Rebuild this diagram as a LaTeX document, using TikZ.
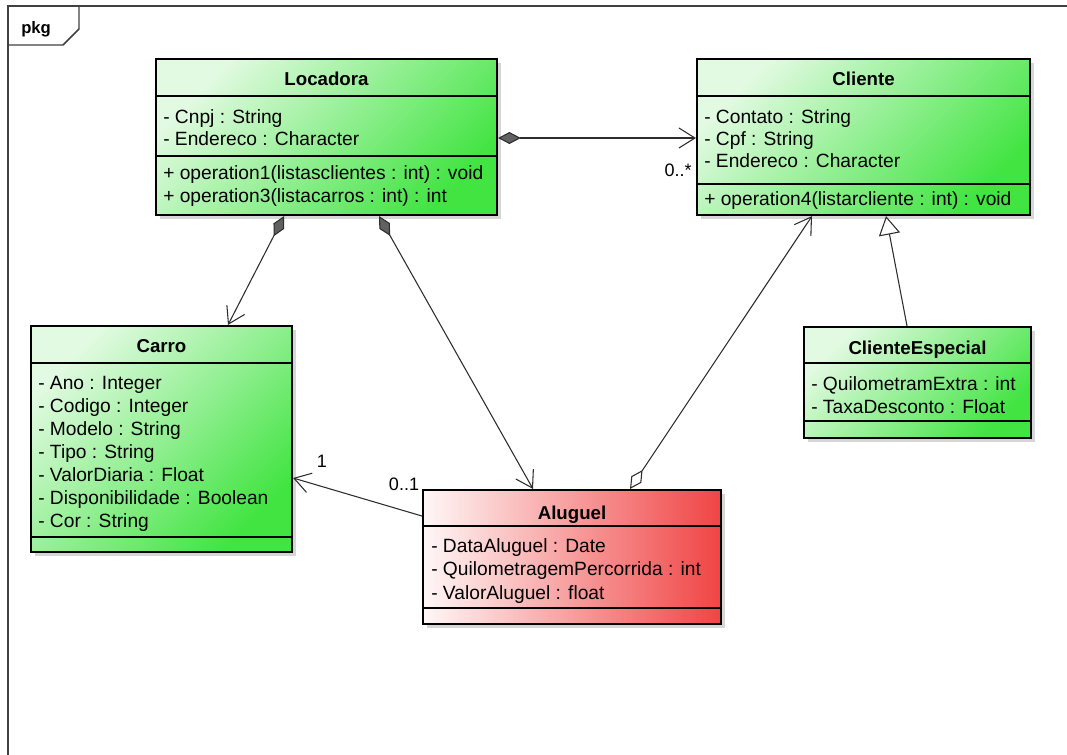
\documentclass[tikz,border=0pt]{standalone}
\usepackage{fontspec}
\setmainfont{Liberation Sans}
\usetikzlibrary{arrows.meta}
\usetikzlibrary{shadows}
\usetikzlibrary{fit}
\definecolor{lightgreen}{RGB}{226,250,226}
\definecolor{umlgreen}{RGB}{66,228,66}
\definecolor{lightred}{RGB}{255,247,247}
\definecolor{umlred}{RGB}{240,68,68}
\definecolor{edgegray}{RGB}{45,45,45}
\tikzset{%
  myclass/.style={draw=black, line width=1.6pt, inner sep=0pt,
    top color=lightgreen, bottom color=umlgreen, shading angle=45,
    drop shadow={shadow xshift=3pt, shadow yshift=-3pt, fill=black!16, opacity=1}},
  myrentclass/.style={myclass, left color=lightred, right color=umlred},
  mysep/.style={draw=black, line width=0.9pt},
  myhead/.style={anchor=base, inner sep=0pt, font=\fontsize{14}{16}\selectfont\bfseries},
  myattr/.style={anchor=base west, inner sep=0pt, font=\fontsize{14.4}{17}\selectfont},
  mymult/.style={inner sep=0pt, font=\fontsize{13.5}{16}\selectfont},
  myedge/.style={draw=edgegray, line width=0.8pt},
  mynav/.style={myedge, -{Straight Barb[length=12pt,width=15pt]}},
  mycomp/.style={myedge, {Diamond[length=17pt,width=9pt,fill=black!62]}-{Straight Barb[length=12pt,width=15pt]}},
  myaggr/.style={myedge, {Diamond[length=17pt,width=9pt,fill=white]}-{Straight Barb[length=12pt,width=15pt]}},
  mygen/.style={myedge, -{Triangle[length=14pt,width=16pt,fill=white]}}
}

\begin{document}
\begin{tikzpicture}[x=0.75pt, y=-0.75pt]
  \useasboundingbox (0,0) rectangle (1067,754);

  \draw[draw=black!75, line width=1.3pt] (8,760) -- (8,6) -- (1067,6);
  \draw[draw=black!75, line width=1.1pt] (8,45) -- (63,45) -- (79,29) -- (79,6);
  \node[anchor=base west, inner sep=0pt, font=\fontsize{12.5}{14}\selectfont\bfseries] (pkg) at (21,33) {pkg};

  \node[myclass, fit={(156,59) (497,215)}] (loc) {};
  \draw[mysep] (loc.west |- 0,96) -- (loc.east |- 0,96);
  \draw[mysep] (loc.west |- 0,156) -- (loc.east |- 0,156);
  \node[myhead] (loch) at (loc.north |- 0,85) {Locadora};
  \node[myattr] (loc1) at (163,123) {- Cnpj : String};
  \node[myattr] (loc2) at (163,145) {- Endereco : Character};
  \node[myattr] (loc3) at (163,179) {+ operation1(listasclientes : int) : void};
  \node[myattr] (loc4) at (163,202) {+ operation3(listacarros : int) : int};

  \node[myclass, fit={(697,59) (1030,215)}] (cli) {};
  \draw[mysep] (cli.west |- 0,96) -- (cli.east |- 0,96);
  \draw[mysep] (cli.west |- 0,184) -- (cli.east |- 0,184);
  \node[myhead] (clih) at (cli.north |- 0,85) {Cliente};
  \node[myattr] (cli1) at (704,123) {- Contato : String};
  \node[myattr] (cli2) at (704,145) {- Cpf : String};
  \node[myattr] (cli3) at (704,167) {- Endereco : Character};
  \node[myattr] (cli4) at (704,205) {+ operation4(listarcliente : int) : void};

  \node[myclass, fit={(31,326) (292,552)}] (car) {};
  \draw[mysep] (car.west |- 0,363) -- (car.east |- 0,363);
  \draw[mysep] (car.west |- 0,537) -- (car.east |- 0,537);
  \node[myhead] (carh) at (car.north |- 0,352) {Carro};
  \node[myattr] (car1) at (38,389) {- Ano : Integer};
  \node[myattr] (car2) at (38,412) {- Codigo : Integer};
  \node[myattr] (car3) at (38,435) {- Modelo : String};
  \node[myattr] (car4) at (38,458) {- Tipo : String};
  \node[myattr] (car5) at (38,481) {- ValorDiaria : Float};
  \node[myattr] (car6) at (38,504) {- Disponibilidade : Boolean};
  \node[myattr] (car7) at (38,527) {- Cor : String};

  \node[myclass, fit={(804,327) (1031,438)}] (esp) {};
  \draw[mysep] (esp.west |- 0,363) -- (esp.east |- 0,363);
  \draw[mysep] (esp.west |- 0,421) -- (esp.east |- 0,421);
  \node[myhead] (esph) at (esp.north |- 0,354) {ClienteEspecial};
  \node[myattr] (esp1) at (811,390) {- QuilometramExtra : int};
  \node[myattr] (esp2) at (811,413) {- TaxaDesconto : Float};

  \node[myrentclass, fit={(423,490) (721,624)}] (alu) {};
  \draw[mysep] (alu.west |- 0,526) -- (alu.east |- 0,526);
  \draw[mysep] (alu.west |- 0,608) -- (alu.east |- 0,608);
  \node[myhead] (aluh) at (alu.north |- 0,519) {Aluguel};
  \node[myattr] (alu1) at (431,552) {- DataAluguel : Date};
  \node[myattr] (alu2) at (431,575) {- QuilometragemPercorrida : int};
  \node[myattr] (alu3) at (431,599) {- ValorAluguel : float};

  \draw[mycomp] (loc.east |- 0,138) -- (cli.west |- 0,138);
  \node[mymult] (m1) at (678,170) {0..*};
  \draw[mycomp] (loc.south -| 284,0) -- (car.north -| 228,0);
  \draw[mycomp] (loc.south -| 379,0) -- (alu.north -| 533,0);
  \draw[myaggr] (alu.north -| 630,0) -- (cli.south -| 812,0);
  \draw[mygen] (esp.north -| 907,0) -- (cli.south -| 886,0);
  \draw[mynav] (alu.west |- 0,516) -- (car.east |- 0,478);
  \node[mymult] (m2) at (322,461) {1};
  \node[mymult] (m3) at (404,484) {0..1};
\end{tikzpicture}
\end{document}
